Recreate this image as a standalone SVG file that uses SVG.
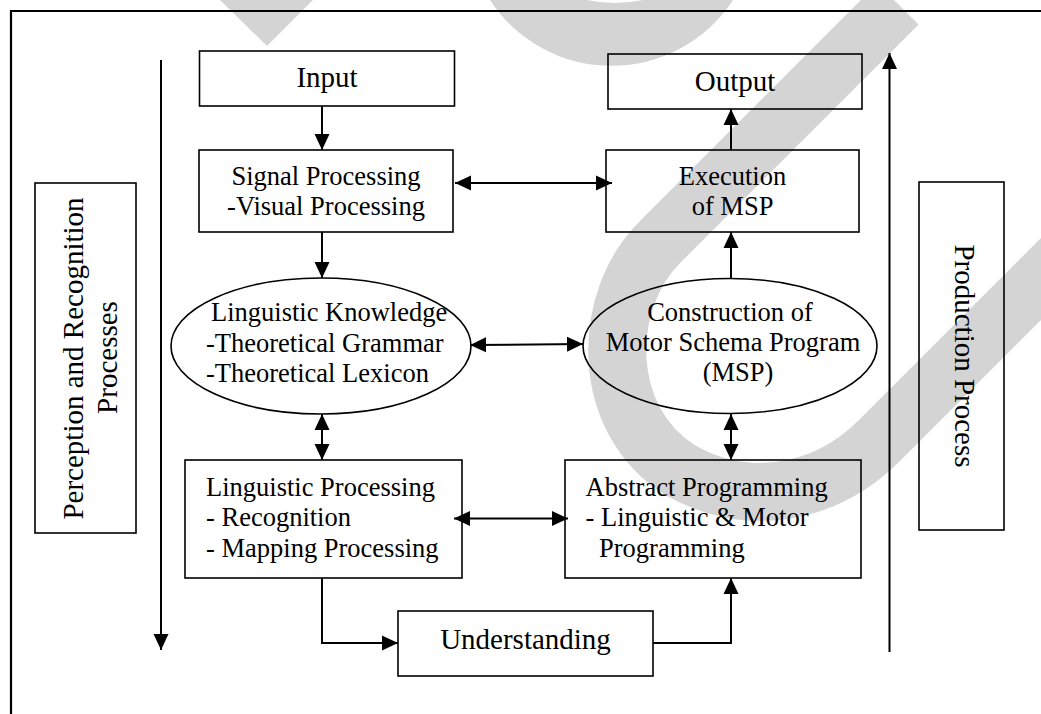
<svg xmlns="http://www.w3.org/2000/svg" width="1041" height="714" viewBox="0 0 1041 714">
<defs>
<style>
.box{fill:none;stroke:#000;stroke-width:1.6}
.conn{fill:none;stroke:#000;stroke-width:2}
.t{font-family:"Liberation Serif","Times New Roman",serif;font-size:26.5px;fill:#000}
.tl{font-family:"Liberation Serif","Times New Roman",serif;font-size:29px;fill:#000}
.wm{fill:#d4d4d4;stroke:none}
</style>
<marker id="ah" markerUnits="userSpaceOnUse" markerWidth="16" markerHeight="16" viewBox="0 0 16 16" refX="16" refY="8" orient="auto-start-reverse">
<path d="M0,0.5 L16,8 L0,15.5 Z" fill="#000"/>
</marker>
</defs>
<rect width="1041" height="714" fill="#fff"/>
<g id="watermark">
<path class="wm" d="M220,0 L313,0 L267,46 Z"/>
<path class="wm" d="M490,0 A145,145 0 0 0 733,0 L643,0 Q615,6 587,0 Z"/>
<path d="M898,4 L660,242 C600,302 600,420 680,470 C740,505 820,500 880,440 L1080,240" fill="none" stroke="#d4d4d4" stroke-width="58" stroke-linecap="butt"/>
</g>
<path id="frame" d="M11,714 L11,11 L1041,11" fill="none" stroke="#000" stroke-width="2.2"/>
<g id="connectors">
<path class="conn" d="M322,106 L322,150" marker-end="url(#ah)"/>
<path class="conn" d="M322,232 L322,278" marker-end="url(#ah)"/>
<path class="conn" d="M322,414 L322,460" marker-start="url(#ah)" marker-end="url(#ah)"/>
<path class="conn" d="M322,578 L322,643 L398,643" marker-end="url(#ah)"/>
<path class="conn" d="M653,643 L731,643 L731,578" marker-end="url(#ah)"/>
<path class="conn" d="M731,414 L731,460" marker-start="url(#ah)" marker-end="url(#ah)"/>
<path class="conn" d="M731,279 L731,232" marker-end="url(#ah)"/>
<path class="conn" d="M731,150 L731,109" marker-end="url(#ah)"/>
<path class="conn" d="M455,183 L612,183" marker-start="url(#ah)" marker-end="url(#ah)"/>
<path class="conn" d="M470,345 L583,344" marker-start="url(#ah)" marker-end="url(#ah)"/>
<path class="conn" d="M454,518.5 L568,518.5" marker-start="url(#ah)" marker-end="url(#ah)"/>
<path class="conn" d="M161,60 L161,650" marker-end="url(#ah)"/>
<path class="conn" d="M889.5,652 L889.5,53" marker-end="url(#ah)"/>
</g>
<g id="input">
<rect class="box" x="199.5" y="51" width="255" height="55"/>
<text class="tl" x="327" y="87" text-anchor="middle">Input</text>
</g>
<g id="output">
<rect class="box" x="608" y="54" width="254" height="55"/>
<text class="tl" x="735" y="91" text-anchor="middle">Output</text>
</g>
<g id="signal">
<rect class="box" x="199" y="150" width="254" height="82"/>
<text class="t" x="326" y="185" text-anchor="middle">Signal Processing</text>
<text class="t" x="326" y="215" text-anchor="middle">-Visual Processing</text>
</g>
<g id="execution">
<rect class="box" x="606" y="150" width="253" height="82"/>
<text class="t" x="732.5" y="185" text-anchor="middle">Execution</text>
<text class="t" x="732.5" y="215" text-anchor="middle">of MSP</text>
</g>
<g id="knowledge">
<ellipse class="box" cx="321" cy="346" rx="150" ry="68"/>
<text class="t" x="211" y="321">Linguistic Knowledge</text>
<text class="t" x="206" y="351.5">-Theoretical Grammar</text>
<text class="t" x="206" y="382">-Theoretical Lexicon</text>
</g>
<g id="msp">
<ellipse class="box" cx="730" cy="346" rx="147" ry="67.5"/>
<text class="t" x="730" y="320.5" text-anchor="middle">Construction of</text>
<text class="t" x="733" y="351" text-anchor="middle">Motor Schema Program</text>
<text class="t" x="738" y="381" text-anchor="middle">(MSP)</text>
</g>
<g id="linguistic">
<rect class="box" x="185" y="460" width="277" height="118"/>
<text class="t" x="206" y="495.5">Linguistic Processing</text>
<text class="t" x="206" y="526">- Recognition</text>
<text class="t" x="206" y="557">- Mapping Processing</text>
</g>
<g id="abstract">
<rect class="box" x="565" y="460" width="296" height="118"/>
<text class="t" x="585.5" y="495.5">Abstract Programming</text>
<text class="t" x="585.5" y="526">- Linguistic &amp; Motor</text>
<text class="t" x="599" y="557">Programming</text>
</g>
<g id="understanding">
<rect class="box" x="398" y="611" width="255" height="65"/>
<text class="tl" x="525.5" y="648.5" text-anchor="middle">Understanding</text>
</g>
<g id="perception">
<rect class="box" x="35" y="183" width="101" height="350"/>
<text class="tl" transform="translate(83,358.5) rotate(-90)" text-anchor="middle">Perception and Recognition</text>
<text class="tl" transform="translate(117,357.5) rotate(-90)" text-anchor="middle">Processes</text>
</g>
<g id="production">
<rect class="box" x="919" y="182" width="85" height="348"/>
<text class="tl" transform="translate(955,356) rotate(90)" text-anchor="middle">Production Process</text>
</g>
</svg>
